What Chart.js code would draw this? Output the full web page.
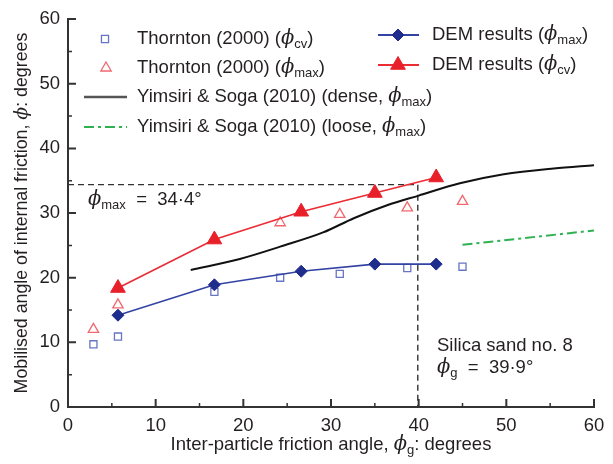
<!DOCTYPE html>
<html>
<head>
<meta charset="utf-8">
<script src="https://cdn.jsdelivr.net/npm/chart.js@4/dist/chart.umd.min.js"></script>
<style>
  html, body { margin: 0; padding: 0; background: #fff; }
  #wrap { width: 613px; height: 464px; }
</style>
</head>
<body>
<div id="wrap"><canvas id="chart"></canvas></div>
<script>
// === DATA ===
const thorntonX = [2.9, 5.7, 16.7, 24.2, 31.0, 38.7, 45.0];
const thorntonCv = [9.7, 10.9, 17.8, 20.0, 20.6, 21.5, 21.7];
const thorntonMaxX = [2.9, 5.7, 24.2, 31.0, 38.7, 45.0];
const thorntonMax = [12.0, 15.8, 28.5, 29.8, 30.8, 31.8];
const demX = [5.7, 16.7, 26.6, 35.0, 42.0];
const demMax = [14.2, 18.9, 21.0, 22.1, 22.1];
const demCv = [18.4, 25.9, 30.2, 33.1, 35.5];
const denseX = [14.0, 19.6, 24.2, 29.1, 32.6, 36.4, 40.0, 44.7, 49.7, 55.4, 60.0];
const denseY = [21.2, 22.9, 24.8, 27.0, 29.2, 31.2, 32.7, 34.6, 36.0, 36.9, 37.4];
const looseX = [45.0, 60.0];
const looseY = [25.1, 27.3];
const phiMax = 34.4;
const phiG = 39.9;

const FONT = '"Liberation Sans", Arial, sans-serif';
const TXT = "#231f20";
const PHI = "\u03D5";

const pts = (xs, ys) => xs.map((x, i) => ({ x, y: ys[i] }));

// === ESTILOS ===
const sty = {
  thCv: { pointStyle: "rect", radius: 5, fill: "#fff", stroke: "#6675c4", width: 1.3 },
  thMax: { pointStyle: "triangle", radius: 6, fill: "#fff", stroke: "#f0686e", width: 1.3 },
  demMax: { pointStyle: "rectRot", radius: 6, fill: "#1f2d8c", stroke: "#1f2d8c", width: 1, line: "#3343a3" },
  demCv: { pointStyle: "triangle", radius: 8.5, fill: "#e8202a", stroke: "#e8202a", width: 1, line: "#ec2b33" },
};
const looseDash = [10, 4, 3, 4];

const datasets = [
  {
    data: pts(demX, demCv), showLine: true, borderColor: sty.demCv.line, borderWidth: 1.6,
    pointStyle: "triangle", pointRadius: sty.demCv.radius, pointBackgroundColor: sty.demCv.fill,
    pointBorderColor: sty.demCv.stroke, pointBorderWidth: 1,
  },
  {
    data: pts(demX, demMax), showLine: true, borderColor: sty.demMax.line, borderWidth: 1.6,
    pointStyle: "rectRot", pointRadius: sty.demMax.radius, pointBackgroundColor: sty.demMax.fill,
    pointBorderColor: sty.demMax.stroke, pointBorderWidth: 1,
  },
  {
    data: pts(thorntonMaxX, thorntonMax), showLine: false,
    pointStyle: "triangle", pointRadius: sty.thMax.radius, pointBackgroundColor: "rgba(255,255,255,0)",
    pointBorderColor: sty.thMax.stroke, pointBorderWidth: sty.thMax.width,
  },
  {
    data: pts(thorntonX, thorntonCv), showLine: false,
    pointStyle: "rect", pointRadius: sty.thCv.radius, pointBackgroundColor: "rgba(255,255,255,0)",
    pointBorderColor: sty.thCv.stroke, pointBorderWidth: sty.thCv.width,
  },
  {
    data: pts(denseX, denseY), showLine: true, borderColor: "#111", borderWidth: 2,
    cubicInterpolationMode: "monotone", pointRadius: 0,
  },
  {
    data: pts(looseX, looseY), showLine: true, borderColor: "#2fb152", borderWidth: 2,
    borderDash: looseDash, pointRadius: 0,
  },
  {
    data: [{ x: 0, y: phiMax }, { x: phiG, y: phiMax }, { x: phiG, y: 0 }],
    showLine: true, borderColor: "#333", borderWidth: 1.4, borderDash: [6, 4], pointRadius: 0,
  },
];

// === TEXTO CON SUBÍNDICES ===
function setFont(ctx, kind, size) {
  if (kind === "i") ctx.font = `italic ${size + 1}px "DejaVu Serif", serif`;
  else if (kind === "s") ctx.font = `${Math.round(size * 0.72)}px ${FONT}`;
  else ctx.font = `${size}px ${FONT}`;
}
function richWidth(ctx, parts, size) {
  let w = 0;
  parts.forEach(([t, k]) => { setFont(ctx, k, size); w += ctx.measureText(t).width; });
  return w;
}
function rich(ctx, parts, x, y, size) {
  ctx.textBaseline = "middle";
  ctx.textAlign = "left";
  parts.forEach(([t, k]) => {
    setFont(ctx, k, size);
    ctx.fillText(t, x, k === "s" ? y + size * 0.3 : y);
    x += ctx.measureText(t).width;
  });
}

function marker(ctx, s, x, y) {
  ctx.save();
  ctx.fillStyle = s.fill;
  ctx.strokeStyle = s.stroke;
  ctx.lineWidth = s.width;
  Chart.helpers.drawPoint(ctx, { pointStyle: s.pointStyle, radius: s.radius, rotation: 0, borderWidth: s.width }, x, y);
  ctx.restore();
}
function legLine(ctx, color, dash, x1, x2, y, w) {
  ctx.save();
  ctx.strokeStyle = color;
  ctx.lineWidth = w;
  ctx.setLineDash(dash);
  ctx.beginPath();
  ctx.moveTo(x1, y);
  ctx.lineTo(x2, y);
  ctx.stroke();
  ctx.restore();
}

const decor = {
  id: "decor",
  afterDraw(chart) {
    const { ctx, chartArea: a, scales: { x, y } } = chart;
    ctx.save();
    // ticks hacia dentro
    ctx.strokeStyle = "#333";
    for (let v = 0; v <= 60; v += 5) {
      const major = v % 10 === 0;
      ctx.lineWidth = major ? 2 : 1.5;
      const L = major ? 8 : 4;
      const px = x.getPixelForValue(v);
      const py = y.getPixelForValue(v);
      ctx.beginPath();
      ctx.moveTo(px, a.bottom); ctx.lineTo(px, a.bottom - L);
      ctx.moveTo(a.left, py); ctx.lineTo(a.left + L, py);
      ctx.stroke();
    }

    ctx.fillStyle = TXT;
    const fs = 18.5;
    // títulos de ejes
    const xt = [["Inter-particle friction angle, ", "n"], [PHI, "i"], ["g", "s"], [": degrees", "n"]];
    rich(ctx, xt, (a.left + a.right) / 2 - richWidth(ctx, xt, fs) / 2, 445, fs);
    const yt = [["Mobilised angle of internal friction, ", "n"], [PHI, "i"], [": degrees", "n"]];
    ctx.save();
    ctx.translate(22, (a.top + a.bottom) / 2);
    ctx.rotate(-Math.PI / 2);
    rich(ctx, yt, -richWidth(ctx, yt, 17.8) / 2, 0, 17.8);
    ctx.restore();

    // leyenda
    marker(ctx, sty.thCv, 105, 39);
    rich(ctx, [["Thornton (2000) (", "n"], [PHI, "i"], ["cv", "s"], [")", "n"]], 137, 39, fs);
    marker(ctx, sty.thMax, 106, 68);
    rich(ctx, [["Thornton (2000) (", "n"], [PHI, "i"], ["max", "s"], [")", "n"]], 137, 68, fs);
    legLine(ctx, "#555", [], 84, 127, 97, 2.5);
    rich(ctx, [["Yimsiri & Soga (2010) (dense, ", "n"], [PHI, "i"], ["max", "s"], [")", "n"]], 137, 97, fs);
    legLine(ctx, "#2fb152", looseDash, 84, 127, 127, 2);
    rich(ctx, [["Yimsiri & Soga (2010) (loose, ", "n"], [PHI, "i"], ["max", "s"], [")", "n"]], 137, 127, fs);
    legLine(ctx, sty.demMax.line, [], 378, 419, 35, 1.8);
    marker(ctx, sty.demMax, 398, 35);
    rich(ctx, [["DEM results (", "n"], [PHI, "i"], ["max", "s"], [")", "n"]], 432, 35, fs);
    legLine(ctx, sty.demCv.line, [], 378, 419, 65, 1.8);
    marker(ctx, sty.demCv, 398, 65);
    rich(ctx, [["DEM results (", "n"], [PHI, "i"], ["cv", "s"], [")", "n"]], 432, 65, fs);

    // anotaciones
    rich(ctx, [[PHI, "i"], ["max", "s"], ["  =  34\u00B74\u00B0", "n"]], 88, 200, fs);
    rich(ctx, [["Silica sand no. 8", "n"]], 437, 346, fs);
    rich(ctx, [[PHI, "i"], ["g", "s"], ["  =  39\u00B79\u00B0", "n"]], 437, 368, fs);
    ctx.restore();
  },
};

const axisBase = {
  type: "linear", min: 0, max: 60,
  grid: { display: true, drawOnChartArea: false, drawTicks: false },
  border: { display: true, color: "#333", width: 2 },
  ticks: { stepSize: 10, color: TXT, font: { family: FONT, size: 18.5 } },
};

new Chart(document.getElementById("chart"), {
  type: "scatter",
  data: { datasets },
  options: {
    responsive: true,
    maintainAspectRatio: false,
    animation: false,
    devicePixelRatio: 1,
    layout: { padding: { left: 0, right: 19, top: 17, bottom: 0 } },
    plugins: { legend: { display: false }, tooltip: { enabled: false } },
    scales: {
      x: { ...axisBase, ticks: { ...axisBase.ticks, padding: 8 }, afterFit: (s) => { s.height = 57; } },
      y: { ...axisBase, ticks: { ...axisBase.ticks, padding: 8 }, afterFit: (s) => { s.width = 68; } },
    },
  },
  plugins: [decor],
});
</script>
</body>
</html>
